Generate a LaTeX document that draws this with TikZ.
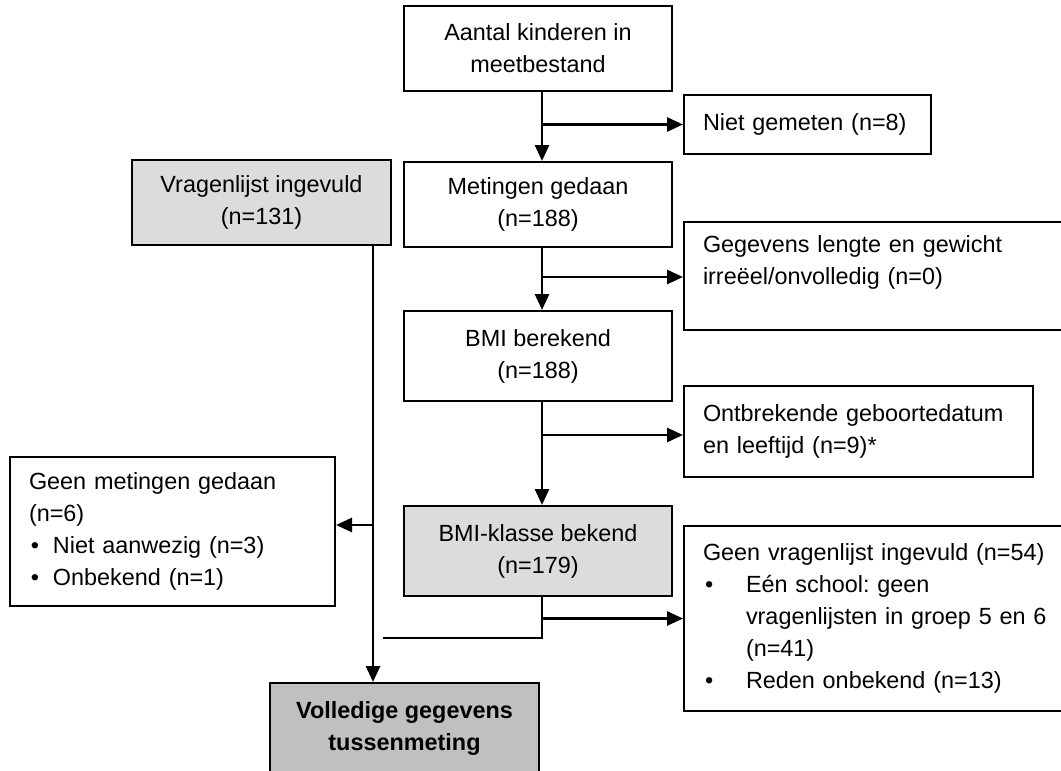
\documentclass[tikz,border=0pt]{standalone}
\usepackage{fontspec}
\setmainfont{Liberation Sans}
\frenchspacing
\usetikzlibrary{arrows.meta}

\definecolor{lightgrey}{RGB}{220,220,220}
\definecolor{midgrey}{RGB}{192,192,192}

\tikzset{
  box/.style={draw, line width=1pt, inner sep=0pt, align=center,
    font=\fontsize{11.7}{16}\selectfont},
  mainbox/.style={box, minimum width=134pt, minimum height=42.5pt},
  sidebox/.style={box, align=left, inner xsep=9.5pt},
  link/.style={line width=1.4pt},
  arr/.style={link, -{Triangle[length=8pt,width=7pt]}}
}
\newcommand{\bul}[1]{\makebox[#1][l]{\hspace{1pt}\textbullet}}

\begin{document}
\begin{tikzpicture}[x=0.5pt,y=-0.5pt]

\useasboundingbox (0,0) rectangle (1061,771);
\clip (0,0) rectangle (1061,771);
\fill[white] (0,0) rectangle (1061,771);

% main column
\node[mainbox] (aantal) at (538,48.5) {Aantal kinderen in\\meetbestand};
\node[mainbox] (metingen) at (538,204.5) {Metingen gedaan\\(n=188)};
\node[mainbox, minimum height=45pt] (bmi) at (538,356) {BMI berekend\\(n=188)};
\node[mainbox, minimum height=45pt, fill=lightgrey] (klasse) at (538,551) {BMI-klasse bekend\\(n=179)};
\node[mainbox, minimum width=134.5pt, minimum height=45pt, fill=midgrey, font=\fontsize{11.7}{16}\selectfont\bfseries] (volledig) at (404.5,728) {Volledige gegevens\\tussenmeting};

% left column
\node[mainbox, minimum width=129.5pt, fill=lightgrey] (vragen) at (261.5,202.5) {Vragenlijst ingevuld\\(n=131)};
\node[sidebox, text width=143.5pt, minimum height=74.5pt] (geenmet) at (172.5,531.5)
  {Geen metingen gedaan\\(n=6)\\\bul{12pt}Niet aanwezig (n=3)\\\bul{12pt}Onbekend (n=1)};

% exclusions on the right
\node[sidebox, text width=104.5pt, minimum height=29.5pt] (niet) at (807.5,124.5) {Niet gemeten (n=8)};
\node[sidebox, text width=174pt, minimum height=54pt] (gegevens) at (877,276)
  {Gegevens lengte en gewicht\\irreëel/onvolledig (n=0)\\\mbox{}};
\node[sidebox, text width=155.5pt, minimum height=45.5pt] (ontbr) at (858.5,431.5)
  {Ontbrekende geboortedatum\\en leeftijd (n=9)*};
\node[sidebox, text width=174pt, minimum height=92.5pt] (geenvrl) at (877,618.5)
  {Geen vragenlijst ingevuld (n=54)\\\bul{21.5pt}Eén school: geen\\\hspace*{21.5pt}vragenlijsten in groep 5 en 6\\\hspace*{21.5pt}(n=41)\\\bul{21.5pt}Reden onbekend (n=13)};

\coordinate (spine) at (542,0);
\coordinate (vline) at (373,0);
\coordinate (loose) at (383,638);

\draw[arr] (aantal.south -| spine) -- (metingen.north -| spine);
\draw[arr] (metingen.south -| spine) -- (bmi.north -| spine);
\draw[arr] (bmi.south -| spine) -- (klasse.north -| spine);
\draw[arr] (niet.west -| spine) -- (niet.west);
\draw[arr] ([yshift=-0.5pt]gegevens.west -| spine) -- ([yshift=-0.5pt]gegevens.west);
\draw[arr] ([yshift=-1.75pt]ontbr.west -| spine) -- ([yshift=-1.75pt]ontbr.west);
\draw[arr] (geenvrl.west -| spine) -- (geenvrl.west);
\draw[link] (klasse.south -| spine) |- (loose);

\draw[arr] (vragen.south -| vline) -- (volledig.north -| vline);
\draw[arr] ([yshift=3.25pt]geenmet.east -| vline) -- ([yshift=3.25pt]geenmet.east);

\end{tikzpicture}
\end{document}
